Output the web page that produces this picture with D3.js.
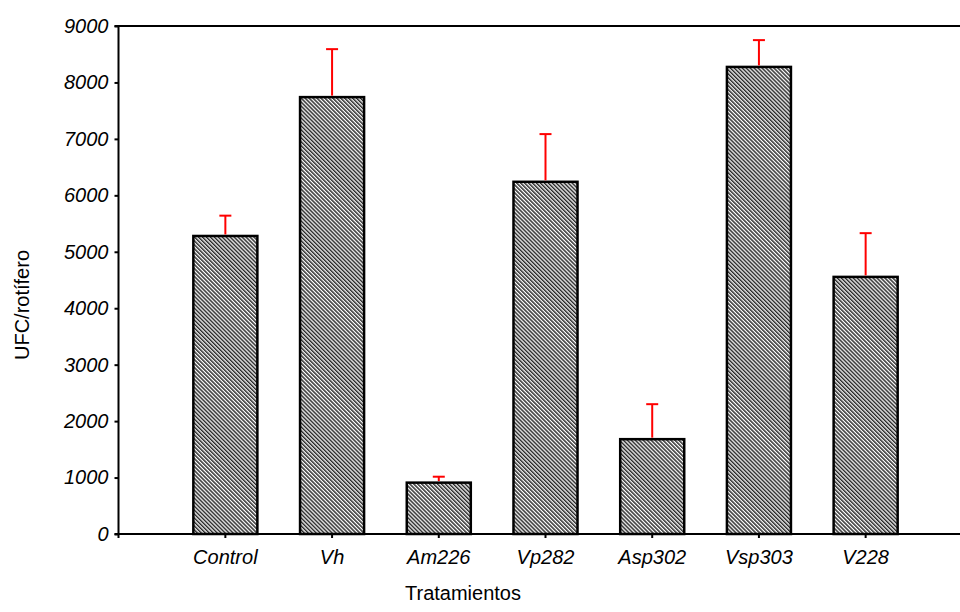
<!DOCTYPE html>
<html><head><meta charset="utf-8">
<script src="https://cdn.jsdelivr.net/npm/d3@7"></script>
<style>body{margin:0;background:#fff}svg{display:block}</style>
</head><body>
<script>
const categories = ["Control","Vh","Am226","Vp282","Asp302","Vsp303","V228"];
const means = [5280, 7740, 910, 6240, 1680, 8275, 4555];
const errUpper = [5640, 8590, 1015, 7085, 2300, 8750, 5330];
const yTicks = [0,1000,2000,3000,4000,5000,6000,7000,8000,9000];

const W = 960, H = 612;
const svg = d3.select("body").append("svg").attr("width", W).attr("height", H);
const defs = svg.append("defs");
const pat = defs.append("pattern").attr("id","hatch").attr("patternUnits","userSpaceOnUse")
  .attr("width",2.8).attr("height",2.8).attr("patternTransform","rotate(-45)");
pat.append("rect").attr("width",2.8).attr("height",2.8).attr("fill","#fff");
pat.append("rect").attr("width",1.5).attr("height",2.8).attr("fill","#2a2a2a");

const x0 = 118.5, yTop = 26, yBot = 534;
const x = d3.scaleBand().domain(categories).range([172, 919]).paddingInner(0.4).paddingOuter(0.2);
const y = d3.scaleLinear().domain([0, 9000]).range([yBot, yTop]);

const font = "'Liberation Sans', Arial, sans-serif";
const fs = 20;

// bars
svg.selectAll("rect.bar").data(categories).enter().append("rect")
  .attr("class","bar")
  .attr("x", d => x(d)).attr("width", x.bandwidth())
  .attr("y", (d,i) => y(means[i])).attr("height", (d,i) => yBot - y(means[i]))
  .attr("fill","url(#hatch)").attr("stroke","#000").attr("stroke-width",2.5);

// error bars
const cap = 6;
const eg = svg.append("g").attr("stroke","#ff0000").attr("stroke-width",2);
categories.forEach((c,i) => {
  const cx = x(c) + x.bandwidth()/2;
  eg.append("line").attr("x1",cx).attr("x2",cx).attr("y1",y(means[i])-1.5).attr("y2",y(errUpper[i]));
  eg.append("line").attr("x1",cx-cap).attr("x2",cx+cap).attr("y1",y(errUpper[i])).attr("y2",y(errUpper[i]));
});

// y axis
const yAxis = d3.axisLeft(y).tickValues(yTicks).tickSize(4).tickPadding(6).tickFormat(d3.format("d"));
const ya = svg.append("g").attr("transform",`translate(${x0},0)`).call(yAxis);
ya.select(".domain").remove();
ya.append("line").attr("x1",0).attr("x2",0).attr("y1",yTop).attr("y2",yBot+4).attr("stroke","#000").attr("stroke-width",2);
ya.selectAll(".tick line").attr("stroke","#000").attr("stroke-width",2);
ya.selectAll(".tick text").attr("font-family",font).attr("font-size",fs).attr("font-style","italic").attr("fill","#000");

// x axis
const xAxis = d3.axisBottom(x).tickSize(4).tickPadding(12);
const xa = svg.append("g").attr("transform",`translate(0,${yBot})`).call(xAxis);
xa.select(".domain").remove();
xa.append("line").attr("x1",x0-4).attr("x2",W).attr("y1",0).attr("y2",0).attr("stroke","#000").attr("stroke-width",2);
xa.selectAll(".tick line").attr("stroke","#000").attr("stroke-width",2);
xa.selectAll(".tick text").attr("font-family",font).attr("font-size",fs).attr("font-style","italic").attr("fill","#000");

// top line
svg.append("line").attr("x1",x0-4).attr("x2",W).attr("y1",yTop).attr("y2",yTop).attr("stroke","#000").attr("stroke-width",2);

// titles
svg.append("text").attr("x",463).attr("y",600).attr("text-anchor","middle")
  .attr("font-family",font).attr("font-size",fs).text("Tratamientos");
svg.append("text").attr("transform","translate(29,305) rotate(-90)").attr("text-anchor","middle")
  .attr("font-family",font).attr("font-size",fs).text("UFC/rotífero");
</script>
</body></html>
